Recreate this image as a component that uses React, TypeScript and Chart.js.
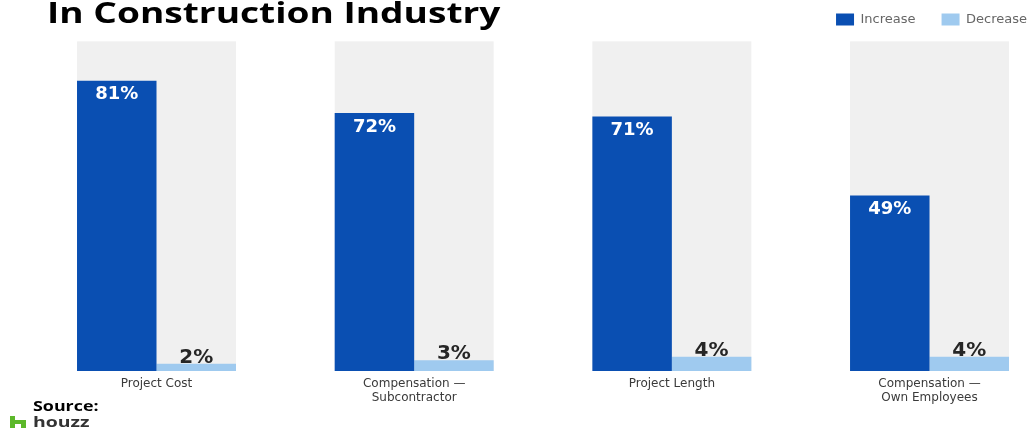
import React, { useEffect, useRef } from "react";
import { Chart, registerables } from "chart.js";

Chart.register(...registerables);

// ---- data ----
const titleText = "In Construction Industry";
const categories: string[][] = [
  ["Project Cost"],
  ["Compensation —", "Subcontractor"],
  ["Project Length"],
  ["Compensation —", "Own Employees"],
];
const seriesNames = ["Increase", "Decrease"];
const increaseValues = [81, 72, 71, 49];
const decreaseValues = [2, 3, 4, 4];
const panelTopValue = 92;

// ---- style ----
const DARK = "#0a4fb2";
const LIGHT = "#9fcaef";
const PANEL = "#f0f0f0";
const W = 1031;
const H = 432;
const Y_MAX = 93.5;
const X_MIN = -0.6074;
const X_MAX = 3.3938;

const panelPlugin = {
  id: "panels",
  beforeDatasetsDraw(chart: any) {
    const m0 = chart.getDatasetMeta(0);
    const m1 = chart.getDatasetMeta(1);
    const y = chart.scales.y;
    const ctx = chart.ctx;
    const top = y.getPixelForValue(panelTopValue);
    const bottom = y.getPixelForValue(0);
    ctx.save();
    ctx.fillStyle = PANEL;
    m0.data.forEach((b0: any, i: number) => {
      const b1 = m1.data[i];
      const l = b0.x - b0.width / 2;
      const r = b1.x + b1.width / 2;
      ctx.fillRect(l, top, r - l, bottom - top);
    });
    ctx.restore();
  },
};

const labelPlugin = {
  id: "valueLabels",
  afterDatasetsDraw(chart: any) {
    const ctx = chart.ctx;
    ctx.save();
    ctx.textAlign = "center";
    const m0 = chart.getDatasetMeta(0);
    ctx.fillStyle = "#ffffff";
    ctx.font = "bold 18px 'DejaVu Sans'";
    ctx.textBaseline = "middle";
    m0.data.forEach((b: any, i: number) => {
      ctx.fillText(increaseValues[i] + "%", b.x, b.y + 14);
    });
    const m1 = chart.getDatasetMeta(1);
    ctx.fillStyle = "#262626";
    ctx.font = "bold 20px 'DejaVu Sans'";
    ctx.textBaseline = "alphabetic";
    m1.data.forEach((b: any, i: number) => {
      ctx.fillText(decreaseValues[i] + "%", b.x, b.y - 1);
    });
    ctx.restore();
  },
};

export default function App() {
  const canvasRef = useRef<HTMLCanvasElement | null>(null);
  const titleRef = useRef<HTMLSpanElement | null>(null);
  const sourceRef = useRef<HTMLSpanElement | null>(null);
  const houzzRef = useRef<HTMLSpanElement | null>(null);

  useEffect(() => {
    const fit = (el: HTMLElement | null, target: number) => {
      if (!el) return;
      el.style.transform = "none";
      const w = el.offsetWidth;
      if (w > 0) el.style.transform = `scaleX(${target / w})`;
    };
    fit(titleRef.current, 453);
    fit(sourceRef.current, 65);
    fit(houzzRef.current, 57);

    const canvas = canvasRef.current;
    if (!canvas) return;
    const chart = new Chart(canvas, {
      type: "bar",
      data: {
        datasets: [
          {
            label: seriesNames[0],
            data: increaseValues.map((v, i) => ({ x: i, y: v })),
            backgroundColor: DARK,
            borderWidth: 0,
            categoryPercentage: 0.617,
            barPercentage: 1,
          },
          {
            label: seriesNames[1],
            data: decreaseValues.map((v, i) => ({ x: i, y: v })),
            backgroundColor: LIGHT,
            borderWidth: 0,
            categoryPercentage: 0.617,
            barPercentage: 1,
          },
        ],
      } as any,
      options: {
        responsive: false,
        animation: false,
        layout: { padding: { top: -13, right: -22, left: 0, bottom: 0 } },
        scales: {
          x: {
            type: "linear",
            offset: false,
            bounds: "data",
            min: X_MIN,
            max: X_MAX,
            grid: { display: false, drawTicks: false, offset: false },
            border: { display: false },
            afterBuildTicks: (s: any) => {
              s.ticks = categories.map((_, i) => ({ value: i }));
            },
            afterFit: (s: any) => {
              s.height = 61;
            },
            ticks: {
              autoSkip: false,
              maxRotation: 0,
              minRotation: 0,
              padding: 6,
              color: "#3a3a3a",
              font: { family: "'DejaVu Sans'", size: 12, lineHeight: 1.15 },
              callback: (v: any) => categories[v as number] ?? "",
            },
          },
          y: { display: false, min: 0, max: Y_MAX },
        },
        plugins: {
          legend: {
            position: "top",
            align: "end",
            labels: {
              boxWidth: 18,
              boxHeight: 12,
              padding: 26,
              color: "#666666",
              font: { family: "'DejaVu Sans'", size: 13 },
            },
          },
          tooltip: { enabled: false },
        },
      } as any,
      plugins: [panelPlugin, labelPlugin],
    });
    return () => chart.destroy();
  }, []);

  return (
    <div
      style={{
        position: "absolute",
        left: 0,
        top: 0,
        width: W,
        height: H,
        background: "#ffffff",
        overflow: "hidden",
      }}
    >
      <canvas ref={canvasRef} width={W} height={H} style={{ position: "absolute", left: 0, top: 0 }} />
      <span
        ref={titleRef}
        style={{
          position: "absolute",
          left: 47,
          top: -2,
          fontFamily: "'Open Sans', sans-serif",
          fontWeight: 700,
          fontSize: 28,
          lineHeight: "28px",
          color: "#000",
          whiteSpace: "nowrap",
          transformOrigin: "left top",
          display: "inline-block",
        }}
      >
        {titleText}
      </span>
      <span
        ref={sourceRef}
        style={{
          position: "absolute",
          left: 33,
          top: 398,
          fontFamily: "'Open Sans', sans-serif",
          fontWeight: 700,
          fontSize: 14,
          lineHeight: "16px",
          color: "#000",
          whiteSpace: "nowrap",
          transformOrigin: "left top",
          display: "inline-block",
        }}
      >
        Source:
      </span>
      <svg
        width={16}
        height={12}
        viewBox="0 0 16 12"
        style={{ position: "absolute", left: 10, top: 416 }}
      >
        <path d="M0 0 H5 V4 H16 V12 H11 V8 H5 V12 H0 Z" fill="#5cb82a" />
      </svg>
      <span
        ref={houzzRef}
        style={{
          position: "absolute",
          left: 33,
          top: 413,
          fontFamily: "'Open Sans', sans-serif",
          fontWeight: 700,
          fontSize: 15,
          lineHeight: "16px",
          color: "#333",
          whiteSpace: "nowrap",
          transformOrigin: "left top",
          display: "inline-block",
        }}
      >
        houzz
      </span>
    </div>
  );
}
